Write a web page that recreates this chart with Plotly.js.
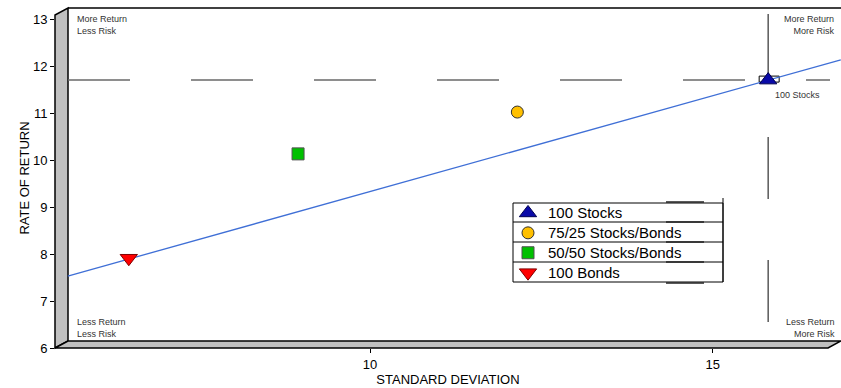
<!DOCTYPE html>
<html>
<head>
<meta charset="utf-8">
<script src="https://cdn.plot.ly/plotly-3.0.1.min.js"></script>
<style>html,body{margin:0;padding:0;background:#fff;}#chart{width:841px;height:388px;}</style>
</head>
<body>
<div id="chart"></div>
<script>
// ---- data ----
var portfolios = ["100 Stocks", "75/25 Stocks/Bonds", "50/50 Stocks/Bonds", "100 Bonds"];
var stdDev     = [15.81, 12.15, 8.95, 6.48];
var returns    = [11.70, 11.02, 10.13, 7.91];
// capital market line (read at the chart's left wall and right edge)
var cmlSD      = [5.59, 16.87];
var cmlReturn  = [7.53, 12.13];
var xTickVals  = [10, 15];
var yTickVals  = [6, 7, 8, 9, 10, 11, 12, 13];
var cornerLabels = ["More Return<br>Less Risk", "More Return<br>More Risk", "Less Return<br>Less Risk", "Less Return<br>More Risk"];

// ---- styles ----
var symbols = ["triangle-up", "circle", "square", "triangle-down"];
var fills   = ["#0a0aa8", "#ffc000", "#00c000", "#ff0000"];
var edges   = ["#000050", "#303030", "#505050", "#800000"];
var sizes   = [15, 12, 12, 15];
var FONT = "Liberation Sans, Arial, Helvetica, sans-serif";

var L = 55, T = 8, W = 786, H = 340;
function px(x) { return (x - L) / W; }
function py(y) { return (T + H - y) / H; }

var traces = [{
  x: cmlSD, y: cmlReturn, mode: "lines", type: "scatter",
  line: {color: "#3f6fd6", width: 1.3}, showlegend: false, hoverinfo: "skip"
}];
for (var i = 0; i < portfolios.length; i++) {
  traces.push({
    x: [stdDev[i]], y: [returns[i]],
    name: '<span style="font-size:15px">' + portfolios[i] + '</span>',
    type: "scatter", mode: "markers", cliponaxis: false,
    marker: {symbol: symbols[i], size: sizes[i], color: fills[i], line: {color: edges[i], width: 1}}
  });
}

var shapes = [
  // left wall
  {type: "path", xref: "paper", yref: "paper", layer: "below",
   path: "M" + px(55) + "," + py(348) + " L" + px(55) + "," + py(15) + " L" + px(68) + "," + py(8) + " L" + px(68) + "," + py(341) + " Z",
   fillcolor: "#c0c0c0", line: {color: "#000", width: 1.5}},
  // floor
  {type: "path", xref: "paper", yref: "paper", layer: "below",
   path: "M" + px(55) + "," + py(348) + " L" + px(68) + "," + py(341) + " L" + px(841) + "," + py(341) + " L" + px(828) + "," + py(348) + " Z",
   fillcolor: "#c0c0c0", line: {color: "#000", width: 1.5}},
  // back plane top border
  {type: "line", xref: "paper", yref: "paper", layer: "below",
   x0: px(68), x1: px(841), y0: py(8), y1: py(8), line: {color: "#000", width: 1.5}},
  // horizontal dashed line at 100 Stocks return
  {type: "line", xref: "paper", yref: "y", layer: "below",
   x0: px(68), x1: px(830), y0: returns[0], y1: returns[0], line: {color: "#6a6a6a", width: 1.5, dash: "62px,61px"}},
  // vertical dashed line at 100 Stocks std dev
  {type: "line", xref: "x", yref: "paper", layer: "below",
   x0: stdDev[0], x1: stdDev[0], y0: py(14), y1: py(341), line: {color: "#404040", width: 1.3, dash: "62px,61px"}},
  // small box at 100 Stocks point
  {type: "rect", xref: "x", yref: "y", layer: "below",
   xsizemode: "pixel", ysizemode: "pixel", xanchor: stdDev[0], yanchor: returns[0],
   x0: -9, x1: 11, y0: -2, y1: 4, fillcolor: "rgba(255,255,255,0)", line: {color: "#000", width: 1}},
  // legend frame
  {type: "rect", xref: "paper", yref: "paper", layer: "above",
   x0: px(513), x1: px(723), y0: py(282), y1: py(203), fillcolor: "#fff", line: {color: "#000", width: 1}},
  {type: "line", xref: "paper", yref: "paper", layer: "above",
   x0: px(723), x1: px(723), y0: py(198), y1: py(282), line: {color: "#000", width: 1}}
];
[222, 242, 262].forEach(function (yy) {
  shapes.push({type: "line", xref: "paper", yref: "paper", layer: "above",
    x0: px(513), x1: px(723), y0: py(yy), y1: py(yy), line: {color: "#000", width: 1}});
});
[202, 222, 242, 262, 283].forEach(function (yy) {
  shapes.push({type: "line", xref: "paper", yref: "paper", layer: "above",
    x0: px(666), x1: px(704), y0: py(yy), y1: py(yy), line: {color: "#222", width: 1.6}});
});

var cornerFont = {family: FONT, size: 9, color: "#333"};
var annotations = [
  {xref: "paper", yref: "paper", x: px(75), y: py(12), xanchor: "left", yanchor: "top", align: "left", showarrow: false, text: cornerLabels[0], font: cornerFont},
  {xref: "paper", yref: "paper", x: px(837), y: py(12), xanchor: "right", yanchor: "top", align: "right", showarrow: false, text: cornerLabels[1], font: cornerFont},
  {xref: "paper", yref: "paper", x: px(75), y: py(341), xanchor: "left", yanchor: "bottom", align: "left", showarrow: false, text: cornerLabels[2], font: cornerFont},
  {xref: "paper", yref: "paper", x: px(837), y: py(341), xanchor: "right", yanchor: "bottom", align: "right", showarrow: false, text: cornerLabels[3], font: cornerFont},
  {xref: "x", yref: "y", x: stdDev[0], y: returns[0], xshift: 29, yshift: -15, showarrow: false, text: portfolios[0], font: cornerFont}
];

var layout = {
  width: 841, height: 388,
  margin: {l: L, r: 841 - L - W, t: T, b: 388 - T - H, pad: 0},
  paper_bgcolor: "#fff", plot_bgcolor: "rgba(0,0,0,0)",
  font: {family: FONT, color: "#000"},
  showlegend: true,
  legend: {x: px(508), y: py(198), xanchor: "left", yanchor: "top",
           bgcolor: "rgba(0,0,0,0)", borderwidth: 0,
           font: {family: FONT, size: 13, color: "#000"}, tracegroupgap: 0},
  xaxis: {range: [5.403, 16.873], tickvals: xTickVals, ticks: "outside", ticklen: 4, tickcolor: "#000",
          showgrid: false, zeroline: false, showline: false, automargin: false,
          tickfont: {family: FONT, size: 13, color: "#000"},
          title: {text: "STANDARD DEVIATION", font: {family: FONT, size: 13, color: "#000"}, standoff: 4}},
  yaxis: {range: [6, 6 + 340 / 47], tickvals: yTickVals, ticks: "outside", ticklen: 4, tickcolor: "#000",
          showgrid: false, zeroline: false, showline: false, automargin: false,
          tickfont: {family: FONT, size: 13, color: "#000"},
          title: {text: "RATE OF RETURN", font: {family: FONT, size: 13, color: "#000"}, standoff: 0}},
  shapes: shapes,
  annotations: annotations
};

Plotly.newPlot("chart", traces, layout, {displayModeBar: false, staticPlot: true});
</script>
</body>
</html>
